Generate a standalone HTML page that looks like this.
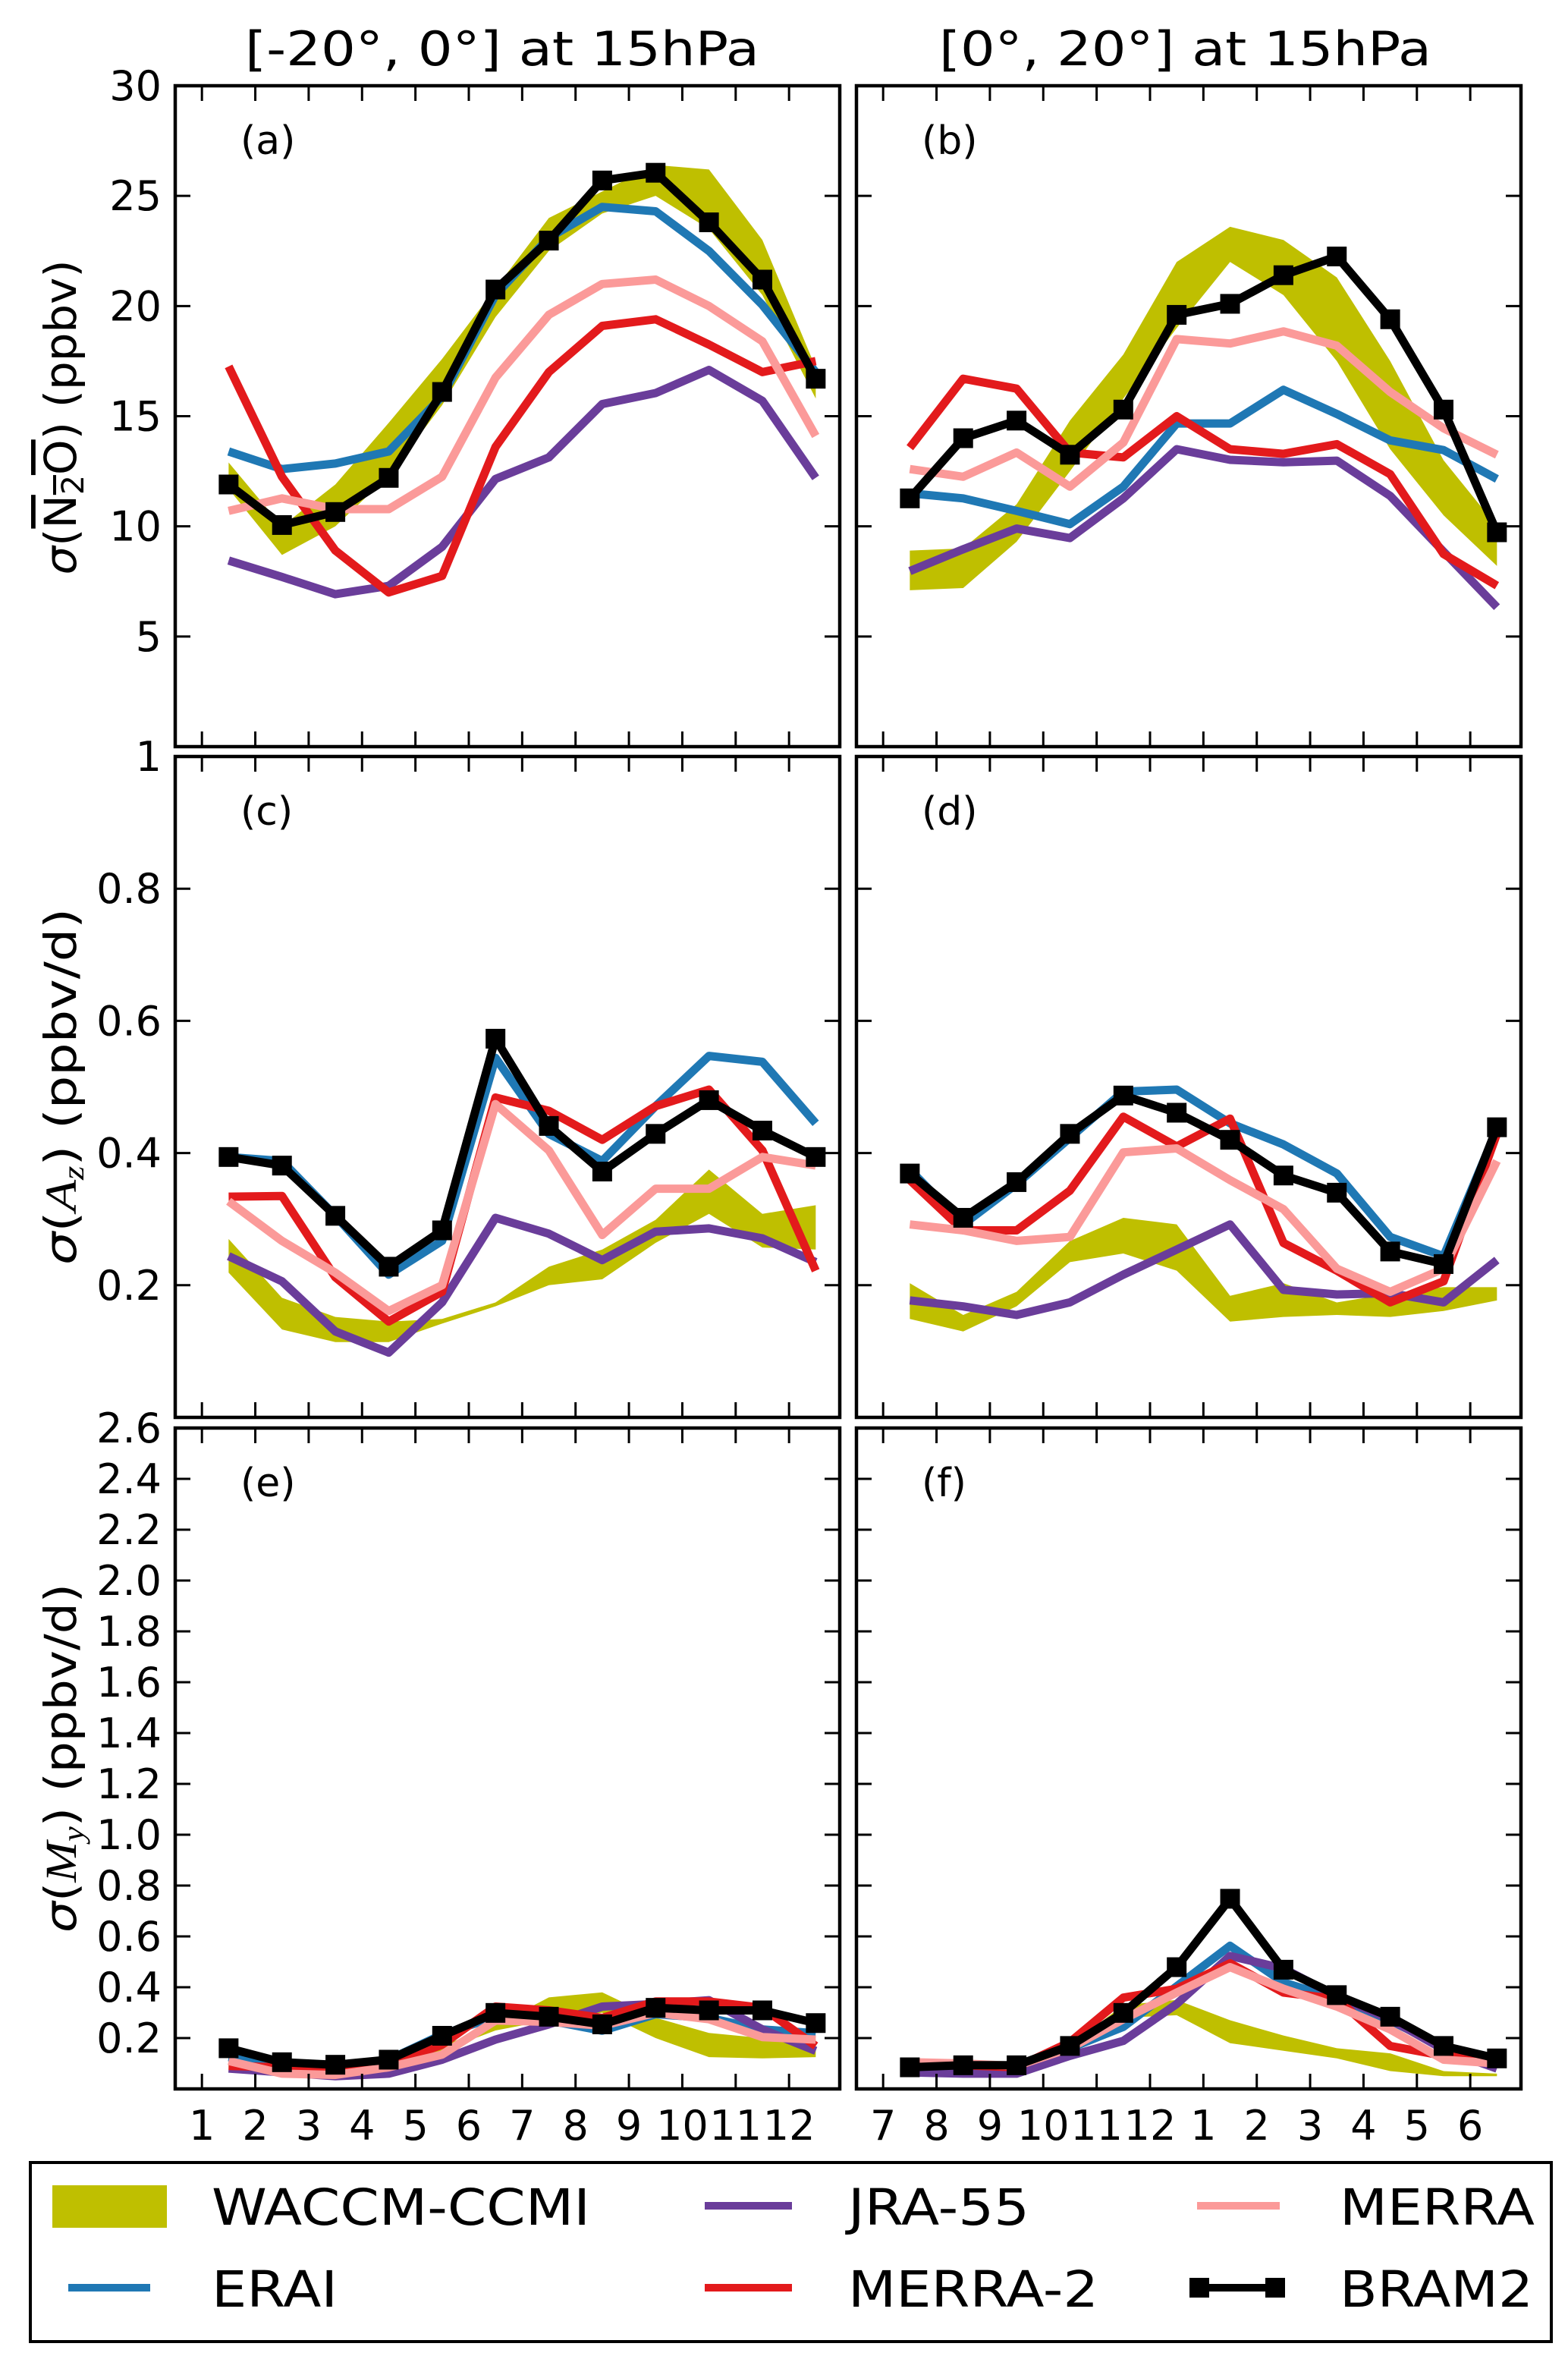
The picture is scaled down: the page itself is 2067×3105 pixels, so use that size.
<!DOCTYPE html>
<html><head><meta charset="utf-8"><style>
html,body{margin:0;padding:0;background:#fff}
svg{display:block}
text{font-family:"DejaVu Sans","Liberation Sans",sans-serif;fill:#000}
</style></head><body>
<svg id="chart" xmlns="http://www.w3.org/2000/svg" width="2067" height="3105" viewBox="0 0 2067 3105"></svg>
<script>
// ---- data ----
const monthsA = ["1","2","3","4","5","6","7","8","9","10","11","12"];
const monthsB = ["7","8","9","10","11","12","1","2","3","4","5","6"];
const tickA = [5,10,15,20,25,30];
const tickC = [0.2,0.4,0.6,0.8,1.0];
const tickCLabels = ["0.2","0.4","0.6","0.8","1"];
const tickE = [0.2,0.4,0.6,0.8,1.0,1.2,1.4,1.6,1.8,2.0,2.2,2.4,2.6];

// panel a
const aWaccmLo = [11.7,8.7,10.0,12.3,15.5,19.5,22.5,24.2,25.0,23.5,20.5,15.8];
const aWaccmHi = [12.9,10.0,11.9,14.7,17.6,20.8,24.0,25.2,26.4,26.2,23.0,17.2];
const aErai   = [13.4,12.6,12.85,13.4,15.9,20.5,23.1,24.5,24.3,22.5,20.05,17.0];
const aJra    = [8.45,7.7,6.92,7.3,9.07,12.15,13.13,15.55,16.05,17.1,15.7,12.2];
const aMerra2 = [17.26,12.25,8.9,7.0,7.75,13.6,17.0,19.1,19.4,18.25,17.0,17.5];
const aMerra  = [10.7,11.27,10.78,10.78,12.25,16.75,19.6,21.0,21.2,20.0,18.4,14.1];
const aBram   = [11.9,10.06,10.65,12.2,16.1,20.75,22.97,25.7,26.05,23.8,21.2,16.7];
// panel b
const bWaccmLo = [7.1,7.2,9.3,12.5,15.8,19.0,22.0,20.5,17.5,13.5,10.5,8.2];
const bWaccmHi = [8.9,9.0,11.0,14.8,17.8,22.0,23.6,23.0,21.3,17.5,13.0,10.0];
const bErai   = [11.5,11.27,10.7,10.1,11.8,14.67,14.67,16.2,15.1,13.9,13.46,12.15];
const bJra    = [7.97,8.96,9.9,9.47,11.27,13.5,13.02,12.91,12.98,11.38,8.85,6.33];
const bMerra2 = [13.57,16.7,16.25,13.35,13.13,15.0,13.5,13.29,13.73,12.37,8.74,7.31];
const bMerra  = [12.6,12.25,13.35,11.8,13.8,18.5,18.3,18.85,18.2,16.1,14.45,13.25];
const bBram   = [11.27,14.0,14.8,13.25,15.3,19.6,20.1,21.4,22.25,19.4,15.3,9.73];
// panel c
const cWaccmLo = [0.219,0.133,0.114,0.114,0.142,0.168,0.200,0.209,0.264,0.308,0.257,0.254];
const cWaccmHi = [0.270,0.181,0.152,0.145,0.149,0.174,0.228,0.254,0.299,0.375,0.308,0.321];
const cErai   = [0.394,0.388,0.305,0.216,0.267,0.544,0.429,0.388,0.471,0.547,0.538,0.445];
const cJra    = [0.244,0.206,0.130,0.098,0.174,0.302,0.278,0.238,0.281,0.286,0.271,0.235];
const cMerra2 = [0.334,0.335,0.212,0.145,0.190,0.484,0.464,0.420,0.471,0.496,0.404,0.222];
const cMerra  = [0.327,0.267,0.219,0.161,0.200,0.474,0.404,0.276,0.346,0.346,0.394,0.381];
const cBram   = [0.394,0.381,0.305,0.228,0.283,0.573,0.441,0.372,0.429,0.480,0.434,0.394];
// panel d
const dWaccmLo = [0.149,0.130,0.168,0.235,0.248,0.222,0.145,0.152,0.155,0.152,0.161,0.177];
const dWaccmHi = [0.203,0.155,0.190,0.267,0.302,0.292,0.184,0.203,0.174,0.187,0.197,0.197];
const dErai   = [0.375,0.292,0.353,0.423,0.493,0.496,0.445,0.413,0.369,0.273,0.244,0.436];
const dJra    = [0.177,0.168,0.155,0.174,0.216,0.254,0.292,0.193,0.186,0.188,0.174,0.238];
const dMerra2 = [0.359,0.283,0.283,0.343,0.455,0.410,0.452,0.264,0.222,0.174,0.206,0.429];
const dMerra  = [0.292,0.283,0.267,0.273,0.401,0.407,0.359,0.315,0.225,0.190,0.225,0.388];
const dBram   = [0.369,0.302,0.356,0.429,0.487,0.461,0.420,0.366,0.340,0.251,0.232,0.439];
// panel e
const eWaccmLo = [0.08,0.06,0.05,0.07,0.15,0.23,0.27,0.30,0.20,0.125,0.12,0.125];
const eWaccmHi = [0.12,0.09,0.08,0.10,0.17,0.25,0.36,0.38,0.28,0.22,0.20,0.195];
const eErai   = [0.125,0.09,0.075,0.115,0.214,0.284,0.269,0.229,0.294,0.279,0.234,0.219];
const eJra    = [0.08,0.065,0.05,0.06,0.115,0.194,0.254,0.324,0.334,0.349,0.234,0.15];
const eMerra2 = [0.09,0.085,0.075,0.095,0.174,0.324,0.309,0.279,0.344,0.344,0.319,0.169];
const eMerra  = [0.11,0.06,0.055,0.085,0.135,0.269,0.264,0.249,0.299,0.274,0.204,0.194];
const eBram   = [0.16,0.105,0.095,0.115,0.209,0.299,0.284,0.254,0.319,0.309,0.309,0.259];
// panel f
const fWaccmLo = [0.05,0.06,0.06,0.15,0.28,0.29,0.18,0.15,0.12,0.07,0.05,0.05];
const fWaccmHi = [0.07,0.08,0.08,0.17,0.33,0.35,0.27,0.21,0.16,0.14,0.07,0.06];
const fErai   = [0.07,0.07,0.075,0.16,0.244,0.404,0.563,0.419,0.354,0.269,0.165,0.095];
const fJra    = [0.065,0.06,0.06,0.13,0.189,0.334,0.523,0.474,0.364,0.274,0.155,0.08];
const fMerra2 = [0.10,0.093,0.085,0.184,0.359,0.394,0.494,0.379,0.354,0.169,0.13,0.115];
const fMerra  = [0.105,0.10,0.09,0.16,0.274,0.379,0.479,0.394,0.324,0.234,0.115,0.10];
const fBram   = [0.085,0.093,0.093,0.169,0.299,0.479,0.748,0.469,0.369,0.284,0.169,0.12];

// ---- layout ----
const NS = "http://www.w3.org/2000/svg";
const svg = document.getElementById('chart');
const COLS = [231, 1129], PW = 876;
const ROWS = [113, 997, 1882], PH = 871;
const XMIN = 0.5, XMAX = 12.95;
const C = {waccm:"#bfbf00", erai:"#1f78b4", jra:"#6a3d9a", merra2:"#e31a1c", merra:"#fb9a99", bram:"#000"};

function mk(tag, attrs, parent){
  const e = document.createElementNS(NS, tag);
  for (const k in attrs) e.setAttribute(k, attrs[k]);
  (parent||svg).appendChild(e);
  return e;
}

function drawPanel(col,row,ymax,band,series,id){
  const L = COLS[col], T = ROWS[row], B = T+PH, R = L+PW;
  const X = v => L + (v-XMIN)/(XMAX-XMIN)*PW;
  const Y = v => B - v/ymax*PH;
  const g = mk('g',{});
  
  
  let pts = band[1].map((v,i)=>X(i+1.5)+','+Y(v));
  pts = pts.concat(band[0].map((v,i)=>X(i+1.5)+','+Y(v)).reverse());
  const poly = mk('polygon',{points:pts.join(' '),fill:C.waccm,stroke:'none'},g);
  
  
  series.forEach(s=>{
    const d = s.vals.map((v,i)=>(i?'L':'M')+X(i+1.5).toFixed(1)+' '+Y(v).toFixed(1)).join(' ');
    const p = mk('path',{d:d,fill:'none',stroke:C[s.key],'stroke-width':11,'stroke-linejoin':'round'},g);
    
    
    if (s.key==='bram'){
      s.vals.forEach((v,i)=>{
        const m = mk('rect',{x:X(i+1.5)-13,y:Y(v)-13,width:26,height:26,fill:'#000'},g);
        
        
      });
    }
  });
  const fr = mk('rect',{x:L,y:T,width:PW,height:PH,fill:'none',stroke:'#000','stroke-width':4.5},g);
  
  
  for (let m=1;m<=12;m++){
    const x = X(m);
    mk('line',{x1:x,y1:B,x2:x,y2:B-20,stroke:'#000','stroke-width':3},g);
    mk('line',{x1:x,y1:T,x2:x,y2:T+20,stroke:'#000','stroke-width':3},g);
  }
  return {X,Y,L,T,B,R,g};
}

function yTicks(p,vals,labels,showLabels){
  vals.forEach((v,i)=>{
    const y = p.Y(v);
    mk('line',{x1:p.L,y1:y,x2:p.L+20,y2:y,stroke:'#000','stroke-width':3},p.g);
    mk('line',{x1:p.R,y1:y,x2:p.R-20,y2:y,stroke:'#000','stroke-width':3},p.g);
    if (showLabels){
      const t = mk('text',{x:p.L-18,y:y+19,'font-size':54,'text-anchor':'end'});
      t.textContent = labels[i];
      
      
    }
  });
}

function xLabels(p,labels){
  labels.forEach((s,i)=>{
    const t = mk('text',{x:p.X(i+1),y:2820,'font-size':54,'text-anchor':'middle'});
    t.textContent = s;
    
    
  });
}

function panelLabel(p,s){
  const t = mk('text',{x:p.L+86,y:p.T+90,'font-size':52});
  t.textContent = s;
  
  
}

function ser(e,j,m2,m,b){return [{key:'erai',vals:e},{key:'jra',vals:j},{key:'merra2',vals:m2},{key:'merra',vals:m},{key:'bram',vals:b}];}

const pa = drawPanel(0,0,30,[aWaccmLo,aWaccmHi],ser(aErai,aJra,aMerra2,aMerra,aBram),'a');
const pb = drawPanel(1,0,30,[bWaccmLo,bWaccmHi],ser(bErai,bJra,bMerra2,bMerra,bBram),'b');
const pc = drawPanel(0,1,1,[cWaccmLo,cWaccmHi],ser(cErai,cJra,cMerra2,cMerra,cBram),'c');
const pd = drawPanel(1,1,1,[dWaccmLo,dWaccmHi],ser(dErai,dJra,dMerra2,dMerra,dBram),'d');
const pe = drawPanel(0,2,2.6,[eWaccmLo,eWaccmHi],ser(eErai,eJra,eMerra2,eMerra,eBram),'e');
const pf = drawPanel(1,2,2.6,[fWaccmLo,fWaccmHi],ser(fErai,fJra,fMerra2,fMerra,fBram),'f');

yTicks(pa,tickA,tickA.map(String),true);
yTicks(pb,tickA,[],false);
yTicks(pc,tickC,tickCLabels,true);
yTicks(pd,tickC,[],false);
yTicks(pe,tickE,tickE.map(v=>v.toFixed(1)),true);
yTicks(pf,tickE,[],false);
xLabels(pe,monthsA);
xLabels(pf,monthsB);
panelLabel(pa,'(a)');panelLabel(pb,'(b)');panelLabel(pc,'(c)');
panelLabel(pd,'(d)');panelLabel(pe,'(e)');panelLabel(pf,'(f)');
</script>
<svg style="position:absolute;left:0;top:0" width="2067" height="3105" viewBox="0 0 2067 3105">
  <text x="323" y="86" font-size="62" textLength="678" lengthAdjust="spacingAndGlyphs">[-20°, 0°] at 15hPa</text>
  <text x="1238" y="86" font-size="62" textLength="649" lengthAdjust="spacingAndGlyphs">[0°, 20°] at 15hPa</text>
  <text transform="translate(100,550) rotate(-90)" font-size="58" text-anchor="middle" textLength="415" lengthAdjust="spacingAndGlyphs"><tspan font-style="italic">σ</tspan>(<tspan text-decoration="overline">N</tspan><tspan font-size="40" dy="10" text-decoration="overline">2</tspan><tspan dy="-10" text-decoration="overline">O</tspan>) (ppbv)</text>
  <text transform="translate(100,1432) rotate(-90)" font-size="58" text-anchor="middle" textLength="470" lengthAdjust="spacingAndGlyphs"><tspan font-style="italic">σ</tspan>(<tspan font-style="italic" font-family="Liberation Serif">A</tspan><tspan font-size="40" dy="10" font-style="italic" font-family="Liberation Serif">z</tspan><tspan dy="-10">) (ppbv/d)</tspan></text>
  <text transform="translate(100,2317) rotate(-90)" font-size="58" text-anchor="middle" textLength="460" lengthAdjust="spacingAndGlyphs"><tspan font-style="italic">σ</tspan>(<tspan font-style="italic" font-family="Liberation Serif">M</tspan><tspan font-size="40" dy="10" font-style="italic" font-family="Liberation Serif">y</tspan><tspan dy="-10">) (ppbv/d)</tspan></text>
  <g>
    <rect x="40" y="2850" width="2005" height="236" fill="#fff" stroke="#000" stroke-width="4"/>
    <rect x="69" y="2880" width="151" height="56" fill="#bfbf00"/>
    <text x="279" y="2932" font-size="66" textLength="499" lengthAdjust="spacingAndGlyphs">WACCM-CCMI</text>
    <line x1="929" y1="2907" x2="1044" y2="2907" stroke="#6a3d9a" stroke-width="10"/>
    <text x="1118" y="2932" font-size="66" textLength="239" lengthAdjust="spacingAndGlyphs">JRA-55</text>
    <line x1="1578" y1="2907" x2="1687" y2="2907" stroke="#fb9a99" stroke-width="10"/>
    <text x="1766" y="2932" font-size="66" textLength="257" lengthAdjust="spacingAndGlyphs">MERRA</text>
    <line x1="90" y1="3015" x2="198" y2="3015" stroke="#1f78b4" stroke-width="10"/>
    <text x="279" y="3040" font-size="66" textLength="166" lengthAdjust="spacingAndGlyphs">ERAI</text>
    <line x1="929" y1="3015" x2="1044" y2="3015" stroke="#e31a1c" stroke-width="10"/>
    <text x="1118" y="3040" font-size="66" textLength="330" lengthAdjust="spacingAndGlyphs">MERRA-2</text>
    <line x1="1581" y1="3015" x2="1681" y2="3015" stroke="#000" stroke-width="10"/>
    <rect x="1568" y="3002" width="26" height="26" fill="#000"/>
    <rect x="1668" y="3002" width="26" height="26" fill="#000"/>
    <text x="1766" y="3040" font-size="66" textLength="255" lengthAdjust="spacingAndGlyphs">BRAM2</text>
  </g>
</svg>
</body></html>
